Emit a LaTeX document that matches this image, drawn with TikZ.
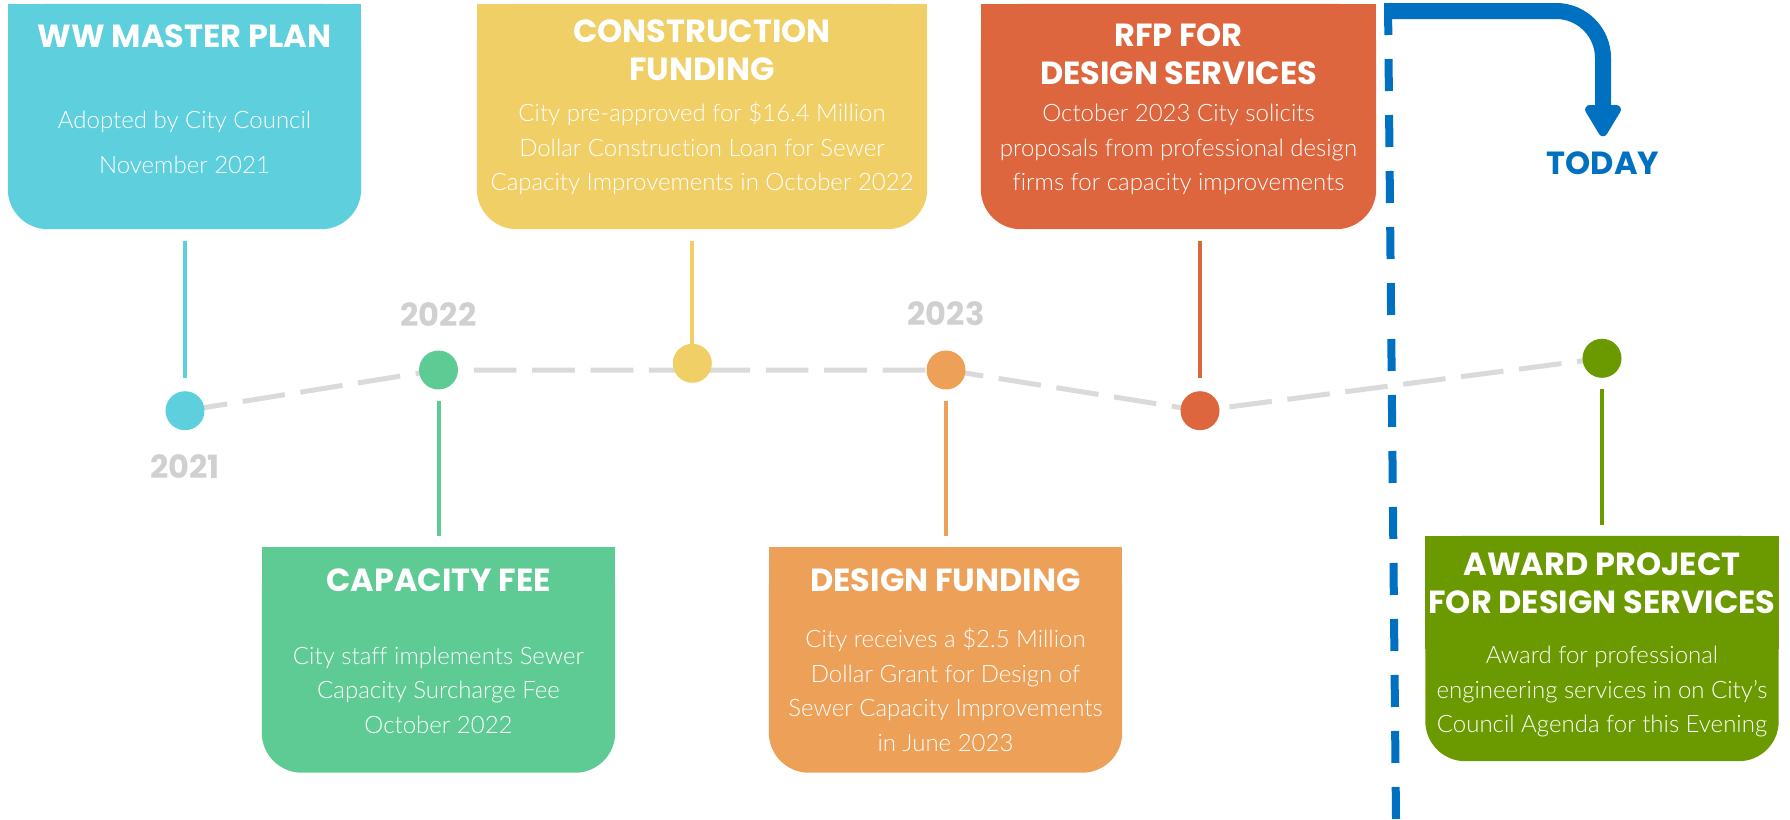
\documentclass[tikz,border=0pt]{standalone}
\usepackage{fontspec}
\IfFontExistsTF{Lato Light}{\newfontfamily\bodyfont{Lato Light}[Ligatures=NoCommon]}{\newfontfamily\bodyfont{Lato}[Ligatures=NoCommon]}
\newfontfamily\headfont{Poppins}
\usetikzlibrary{positioning,arrows.meta,backgrounds}

\definecolor{wwCyan}{HTML}{5ECFDD}
\definecolor{feeGreen}{HTML}{5FCB94}
\definecolor{loanYellow}{HTML}{F0CF67}
\definecolor{grantOrange}{HTML}{ECA058}
\definecolor{rfpRed}{HTML}{DD663E}
\definecolor{awardOlive}{HTML}{6A9A00}
\definecolor{todayBlue}{HTML}{0070C0}
\definecolor{lineGray}{HTML}{DADADA}
\definecolor{yearGray}{HTML}{D0D0D0}

\tikzset{
    card/.style={minimum width=353pt, minimum height=225pt, inner sep=0pt},
    cardTitle/.style={anchor=base, inner sep=0pt, align=center, text=white,
        font=\headfont\bfseries\fontsize{32}{38}\selectfont},
    cardText/.style={anchor=base, inner sep=0pt, align=center, text=white,
        font=\bodyfont\fontsize{24}{34.5}\selectfont},
    dot/.style={circle, fill=#1, minimum size=39pt, inner sep=0pt},
    stem/.style={#1, line width=4pt},
    year/.style={inner sep=0pt, text=yearGray, font=\headfont\bfseries\fontsize{32}{32}\selectfont},
    timeline/.style={lineGray, line width=5pt, dash pattern=on 42.7pt off 15.7pt},
    nowline/.style={todayBlue, line width=8pt, dash pattern=on 32pt off 24pt},
    nowarrow/.style={todayBlue, line width=16pt, rounded corners=47pt,
        -{Triangle[length=36pt, width=40pt, round]}},
}

\begin{document}
\begin{tikzpicture}[x=1pt, y=-1pt]
    \useasboundingbox (0,0) rectangle (1790,819);

    % cards
    \node[card] (ww) at (184.5,116.5) {};
    \node[card, minimum width=450pt] (loan) at (702,116.5) {};
    \node[card, minimum width=395pt] (rfp) at (1178.5,116.5) {};
    \node[card] (fee) at (438.5,660) {};
    \node[card] (grant) at (945.5,660) {};
    \node[card] (award) at (1602,648.5) {};

    \begin{scope}[on background layer]
        \foreach \n/\c in {ww/wwCyan, loan/loanYellow, rfp/rfpRed, fee/feeGreen, grant/grantOrange, award/awardOlive}{
            \fill[\c] (\n.north west) rectangle (\n.east);
            \fill[\c, rounded corners=40pt] (\n.north west) rectangle (\n.south east);
        }
    \end{scope}

    % base anchor sits on the last line
    \node[cardTitle] (wwT) at ([yshift=-44pt]ww.north) {WW MASTER PLAN};
    \node[cardText, font=\bodyfont\fontsize{24}{45}\selectfont] (wwB) at ([yshift=-170pt]ww.north)
        {Adopted by City Council\\November 2021};

    \node[cardTitle] (loanT) at ([yshift=-77pt]loan.north) {CONSTRUCTION\\FUNDING};
    \node[cardText] (loanB) at ([yshift=-187pt]loan.north)
        {City pre-approved for \$16.4 Million\\Dollar Construction Loan for Sewer\\Capacity Improvements in October 2022};

    \node[cardTitle] (rfpT) at ([yshift=-81pt]rfp.north) {RFP FOR\\DESIGN SERVICES};
    \node[cardText] (rfpB) at ([yshift=-187pt]rfp.north)
        {October 2023 City solicits\\proposals from professional design\\firms for capacity improvements};

    \node[cardTitle] (feeT) at ([yshift=-43.7pt]fee.north) {CAPACITY FEE};
    \node[cardText] (feeB) at ([yshift=-186pt]fee.north)
        {City staff implements Sewer\\Capacity Surcharge Fee\\October 2022};

    \node[cardTitle] (grantT) at ([yshift=-43.7pt]grant.north) {DESIGN FUNDING};
    \node[cardText] (grantB) at ([yshift=-204pt]grant.north)
        {City receives a \$2.5 Million\\Dollar Grant for Design of\\Sewer Capacity Improvements\\in June 2023};

    \node[cardTitle] (awardT) at ([yshift=-78pt]award.north) {AWARD PROJECT\\FOR DESIGN SERVICES};
    \node[cardText] (awardB) at ([yshift=-197pt]award.north)
        {Award for professional\\engineering services in on City’s\\Council Agenda for this Evening};

    % timeline
    \node[dot=wwCyan] (d1) at (185,410.7) {};
    \node[dot=feeGreen] (d2) at (438.5,370) {};
    \node[dot=loanYellow] (d3) at (692.3,363.3) {};
    \node[dot=grantOrange] (d4) at (946,370) {};
    \node[dot=rfpRed] (d5) at (1200,410.7) {};
    \node[dot=awardOlive] (d6) at (1602,358.3) {};

    \begin{scope}[on background layer]
        \draw[timeline] (d1.center) -- (d2.center) -- (d4.center) -- (d5.center) -- (d6.center);
    \end{scope}

    \draw[stem=wwCyan, shorten <=12pt, shorten >=13pt] (d1 |- ww.south) -- (d1);
    \draw[stem=loanYellow, shorten <=12pt] (d3 |- loan.south) -- (d3);
    \draw[stem=rfpRed, shorten <=12pt, shorten >=13pt] (d5 |- rfp.south) -- (d5);
    \draw[stem=feeGreen, shorten <=11.5pt, shorten >=11pt] (d2) -- (d2 |- fee.north);
    \draw[stem=grantOrange, shorten <=11.5pt, shorten >=11pt] (d4) -- (d4 |- grant.north);
    \draw[stem=awardOlive, shorten <=11pt, shorten >=11pt] (d6) -- (d6 |- award.north);

    \node[year, below=24pt of d1] (y21) {2021};
    \node[year, above=24pt of d2] (y22) {2022};
    \node[year, above=24pt of d4] (y23) {2023};

    % today marker
    \node[inner sep=0pt, text=todayBlue, font=\headfont\bfseries\fontsize{32}{32}\selectfont] (today) at (1603,163) {TODAY};
    \coordinate (nowtop) at (1388,3);
    \coordinate (nowbot) at (1396,819);
    \coordinate (arrowstart) at (1384,11);
    \draw[nowline] (nowtop) -- (nowbot);
    \draw[nowarrow, shorten >=15pt] (arrowstart) -| (today.north);
\end{tikzpicture}
\end{document}
